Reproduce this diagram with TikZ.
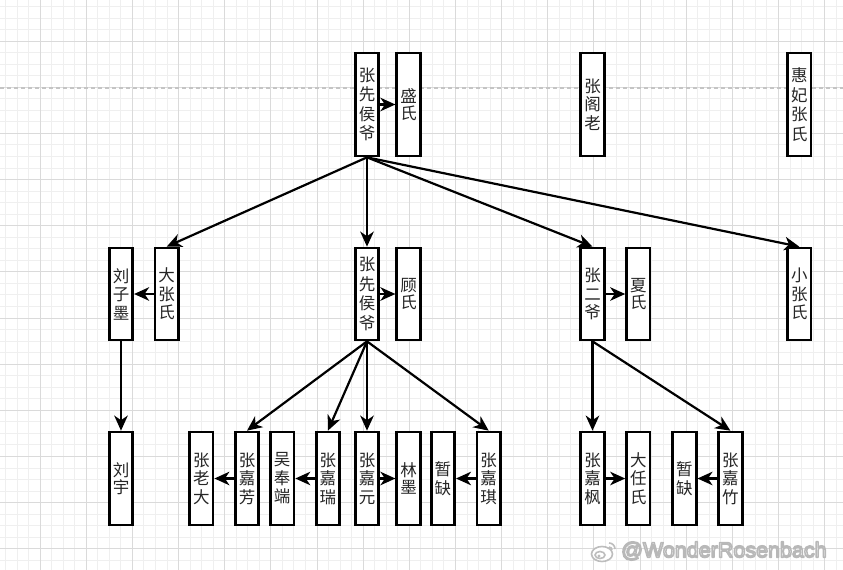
\documentclass[tikz,border=0pt]{standalone}
\usepackage{fontspec}
\setmainfont{Liberation Sans}
\newfontfamily\cjk{Noto Sans CJK SC}
\usetikzlibrary{arrows.meta}
\definecolor{minorgrid}{HTML}{EFEFEF}
\definecolor{majorgrid}{HTML}{DADADA}
\definecolor{dashcol}{HTML}{C4C4C4}
\definecolor{wmgray}{HTML}{BDBDBD}
\begin{document}
\begin{tikzpicture}[x=1pt,y=-1pt,
  pbox/.style={draw=black, fill=white, line width=2.7pt, minimum width=23.5pt,
    inner sep=0pt, font=\cjk\fontsize{16.5}{18.5}\selectfont, text=black!85, align=center},
  two/.style={font=\cjk\fontsize{16.5}{16.5}\selectfont},
  four/.style={font=\cjk\fontsize{16.5}{19.5}\selectfont},
  rowA/.style={pbox, minimum height=103pt},
  rowB/.style={pbox, minimum height=92pt},
  rowC/.style={pbox, minimum height=93pt},
  arr/.style={line width=2.2pt, -{Stealth[length=15pt,width=13.5pt,inset=4.5pt]}}]
\useasboundingbox (0,0) rectangle (843,570);
\fill[white] (0,0) rectangle (843,570);
% grid
\foreach \i in {0,...,73} {
  \pgfmathsetmacro\xx{5.4+11.5375*\i}
  \draw[minorgrid, line width=0.8pt] (\xx,0) -- (\xx,570);
}
\foreach \j in {0,...,49} {
  \pgfmathsetmacro\yy{6.4+11.5375*\j}
  \draw[minorgrid, line width=0.8pt] (0,\yy) -- (843,\yy);
}
\foreach \i in {0,...,18} {
  \pgfmathsetmacro\xx{40+46.15*(\i-1)}
  \draw[majorgrid, line width=0.8pt] (\xx,0) -- (\xx,570);
}
\foreach \j in {0,...,13} {
  \pgfmathsetmacro\yy{41+46.15*(\j-1)}
  \draw[majorgrid, line width=0.8pt] (0,\yy) -- (843,\yy);
}
\draw[dashcol, line width=1.3pt, dash pattern=on 4pt off 3pt] (0,88) -- (843,88);

% top row
\node[rowA, four] (hy1) at (367,104.5) {张\\先\\侯\\爷};
\node[rowA, two] (shs) at (408.5,104.5) {盛\\氏};
\node[rowA] (zgl) at (592.5,104.5) {张\\阁\\老};
\node[rowA, four] (hfz) at (799.3,104.5) {惠\\妃\\张\\氏};

% middle row
\node[rowB] (lzm) at (121,294) {刘\\子\\墨};
\node[rowB] (dzs) at (166.7,294) {大\\张\\氏};
\node[rowB, four] (hy2) at (367,294) {张\\先\\侯\\爷};
\node[rowB, two] (gus) at (408.5,294) {顾\\氏};
\node[rowB] (zey) at (592.5,294) {张\\二\\爷};
\node[rowB, two] (xia) at (638.3,294) {夏\\氏};
\node[rowB] (xzs) at (799.3,294) {小\\张\\氏};

% bottom row
\node[rowC, two] (lyu) at (121,478.5) {刘\\宇};
\node[rowC] (zld) at (201.3,478.5) {张\\老\\大};
\node[rowC] (zjf) at (247,478.5) {张\\嘉\\芳};
\node[rowC] (wfd) at (282.2,478.5) {吴\\奉\\端};
\node[rowC] (zjr) at (327.9,478.5) {张\\嘉\\瑞};
\node[rowC] (zjy) at (367,478.5) {张\\嘉\\元};
\node[rowC, two] (lmo) at (408.5,478.5) {林\\墨};
\node[rowC] (qqa) at (442.9,478.5) {暂\\缺};
\node[rowC] (zjq) at (488.7,478.5) {张\\嘉\\琪};
\node[rowC] (zjfe) at (592.5,478.5) {张\\嘉\\枫};
\node[rowC] (drs) at (638.3,478.5) {大\\任\\氏};
\node[rowC] (qqb) at (684.4,478.5) {暂\\缺};
\node[rowC] (zjz) at (730.4,478.5) {张\\嘉\\竹};

% connectors
\draw[arr] (hy1.east) -- (shs.west);
\draw[arr] (hy1.south) -- (dzs.north);
\draw[arr] (hy1.south) -- (hy2.north);
\draw[arr] (hy1.south) -- (zey.north);
\draw[arr] (hy1.south) -- (xzs.north);

\draw[arr] (dzs.west) -- (lzm.east);
\draw[arr] (hy2.east) -- (gus.west);
\draw[arr] (zey.east) -- (xia.west);
\draw[arr] (lzm.south) -- (lyu.north);

\draw[arr] (hy2.south) -- (zjf.north);
\draw[arr] (hy2.south) -- (zjr.north);
\draw[arr] (hy2.south) -- (zjy.north);
\draw[arr] (hy2.south) -- (zjq.north);

\draw[arr] (zey.south) -- (zjfe.north);
\draw[arr] (zey.south) -- (zjz.north);

\draw[arr] (zjf.west) -- (zld.east);
\draw[arr] (zjr.west) -- (wfd.east);
\draw[arr] (zjy.east) -- (lmo.west);
\draw[arr] (zjq.west) -- (qqa.east);
\draw[arr] (zjfe.east) -- (drs.west);
\draw[arr] (zjz.west) -- (qqb.east);

% watermark
\begin{scope}[wmgray, line width=1.6pt]
  \draw[fill=white] (602,554) ellipse [x radius=10.5pt, y radius=7.5pt];
  \draw (600,555) ellipse [x radius=5pt, y radius=3.5pt];
  \fill (599,556) circle (1.6pt);
  \draw (609,543) arc [start angle=90, end angle=0, radius=6pt];
  \draw (609,547) arc [start angle=90, end angle=0, radius=3pt];
\end{scope}
\node[anchor=west, inner sep=0pt, text=white, font=\fontsize{21.5}{21.5}\selectfont] (wm) at (621,551)
  {\special{pdf:literal direct 1 j 1.5 w 0.72 G 2 Tr}@WonderRosenbach\special{pdf:literal direct 0 Tr}};
\end{tikzpicture}
\end{document}
